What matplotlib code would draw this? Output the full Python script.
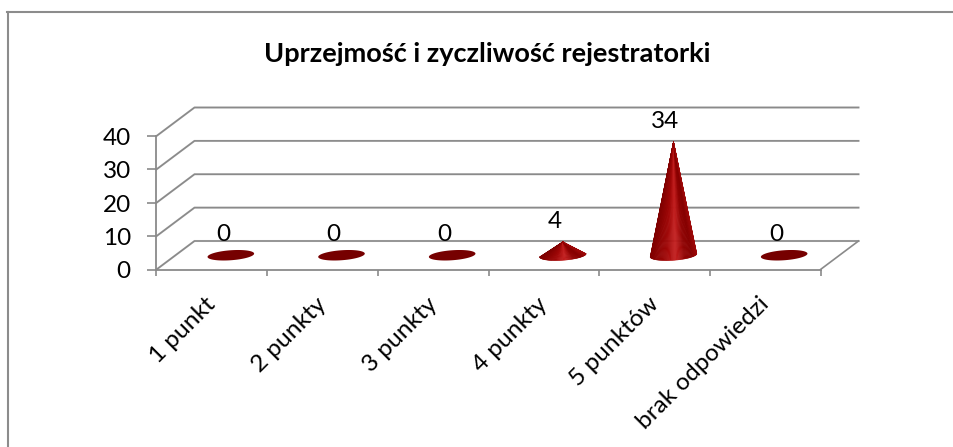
import numpy as np
import matplotlib
matplotlib.use("Agg")
import matplotlib.pyplot as plt
from matplotlib.colors import LinearSegmentedColormap
from matplotlib.lines import Line2D
from matplotlib.transforms import ScaledTranslation

title = "Uprzejmość i zyczliwość rejestratorki"
categories = ["1 punkt", "2 punkty", "3 punkty", "4 punkty", "5 punktów", "brak odpowiedzi"]
values = [0, 0, 0, 4, 34, 0]
y_ticks = [0, 10, 20, 30, 40]

W, H = 954, 447
FONT = "Lato"
AXIS = "#8a8a8a"
plt.rcParams["font.family"] = [FONT, "DejaVu Sans"]

fig = plt.figure(figsize=(W / 100, H / 100), dpi=100, facecolor="white")

# front plane of the 3-D box, in pixels
L, R, T, B = 156.5, 820.5, 136, 269.5
ax = fig.add_axes([L / W, 1 - B / H, (R - L) / W, (B - T) / H])
ax.set_xlim(0, len(categories))
ax.set_ylim(0, y_ticks[-1])
ax.patch.set_alpha(0)

px_x = (R - L) / len(categories)      # pixels per category
px_y = (B - T) / y_ticks[-1]          # pixels per value unit
depth_x = 38 / px_x
depth_y = 28.5 / px_y

for s in ("top", "right"):
    ax.spines[s].set_visible(False)
for s in ("left", "bottom"):
    ax.spines[s].set_color(AXIS)
    ax.spines[s].set_linewidth(1.3)

ax.set_yticks(y_ticks)
ax.set_xticks(range(len(categories) + 1))
ax.set_xticklabels([])
ax.set_xticks(np.arange(len(categories)) + 0.5, minor=True)
ax.set_xticklabels(categories, minor=True, rotation=45, ha="right", va="top",
                   rotation_mode="anchor", fontsize=17.6, color="black")
ax.tick_params(axis="x", which="major", length=4.5, width=1.2, color=AXIS)
ax.tick_params(axis="x", which="minor", length=0, pad=17.2)
ax.tick_params(axis="y", length=6.5, width=1.2, color=AXIS, labelsize=17.5, pad=12)

# nudge the tick labels to where the reference has them
shift_x = ScaledTranslation(-7 / 100, 0, fig.dpi_scale_trans)
shift_y = ScaledTranslation(0, -0.5 / 100, fig.dpi_scale_trans)
for lab in ax.get_xticklabels(minor=True):
    lab.set_transform(lab.get_transform() + shift_x)
for lab in ax.get_yticklabels():
    lab.set_transform(lab.get_transform() + shift_y)

# walls: diagonals and back gridlines
n = len(categories)
for v in y_ticks:
    xs = [0, depth_x, n + depth_x]
    ys = [v, v + depth_y, v + depth_y]
    ax.plot(xs, ys, color="#d8d8d8", lw=1.5, clip_on=False, zorder=1)
    ax.plot(xs, ys, color=AXIS, lw=1.2, clip_on=False, zorder=1.1)
ax.plot([n, n + depth_x], [0, depth_y], color=AXIS, lw=1.2, clip_on=False, zorder=1.1)

# cones
cmap = LinearSegmentedColormap.from_list(
    "cone", [(0, "#7e0000"), (0.35, "#a00606"), (0.55, "#c41f1f"),
             (0.75, "#900202"), (0.9, "#860000"), (1, "#9c0808")])
HALF_W, HALF_H, SKEW = 23.3, 5.0, 0.07   # base ellipse, pixels


def base_point(cx, cy, t):
    dx = HALF_W * np.cos(t)
    dy = HALF_H * np.sin(t) + SKEW * dx     # pixels, y up
    return cx + dx / px_x, cy + dy / px_y


for i, v in enumerate(values):
    cx = i + 0.5 + depth_x / 2
    cy = depth_y / 2
    if v == 0:
        t = np.linspace(0, 2 * np.pi, 80)
        x, y = base_point(cx, cy, t)
        ax.fill(x, y, color="#760000", lw=0, clip_on=False, zorder=3)
    else:
        edges = np.linspace(np.pi, 2 * np.pi, 61)
        for a, b in zip(edges[:-1], edges[1:]):
            xa, ya = base_point(cx, cy, np.linspace(a, b, 3))
            frac = (np.cos((a + b) / 2) + 1) / 2
            c = cmap(frac)
            ax.fill(np.r_[cx, xa], np.r_[cy + v, ya], facecolor=c, edgecolor=c,
                    lw=0.4, clip_on=False, zorder=3)
    ax.annotate(str(v), (i + 0.5, v), xytext=(11 * 0.72, 35 * 0.72 - 0.5 * (v > 10)),
                textcoords="offset points", ha="center", va="center",
                fontsize=17.5, color="black", zorder=4, annotation_clip=False)

fig.text(487.5 / W, 1 - 54 / H, title, ha="center", va="center",
         fontsize=19.5, fontweight="bold", color="black")

# outer frame
fig.add_artist(Line2D([8 / W, 8 / W], [0, 1 - 12 / H], color="#8c8c8c", lw=1.5))
fig.add_artist(Line2D([7.3 / W, 1], [1 - 12 / H, 1 - 12 / H], color="#8c8c8c", lw=1.5))

fig.savefig("out.png", dpi=100, facecolor="white")
